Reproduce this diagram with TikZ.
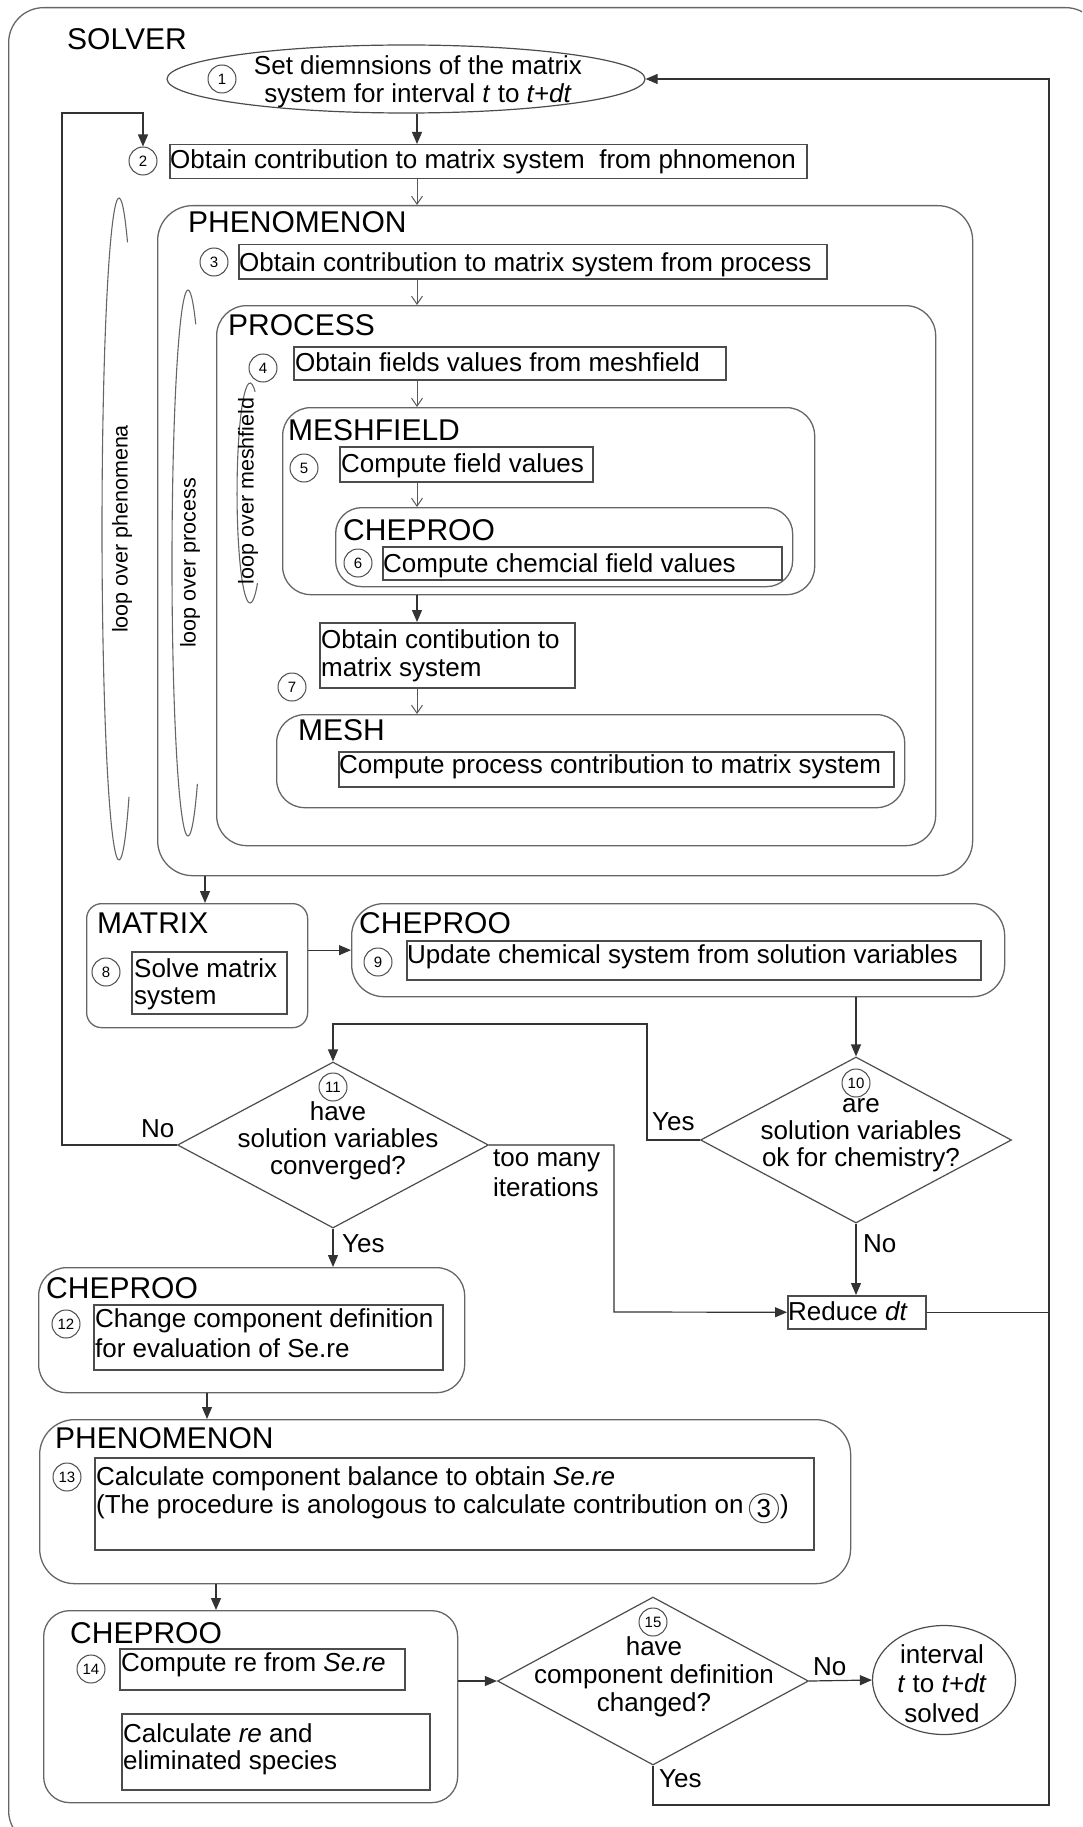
\documentclass[tikz,border=0pt]{standalone}
\usepackage{fontspec}
\setmainfont{Liberation Sans}
\usetikzlibrary{arrows.meta,shapes.geometric}
\begin{document}
\begin{tikzpicture}[x=1pt,y=-1pt,
  ln/.style={draw=black!80, line width=1.2pt},
  tb/.style={draw=black!70, line width=1.5pt, rectangle, inner sep=0pt, anchor=north west},
  rb/.style={draw=black!60, line width=1.3pt, rectangle, rounded corners=28pt, inner sep=0pt, anchor=north west},
  ttl/.style={font=\fontsize{30}{34}\selectfont, anchor=base west, inner sep=0pt},
  txt/.style={font=\fontsize{26}{28}\selectfont, inner sep=0pt},
  lbl/.style={txt, anchor=base west},
  num/.style={circle, draw=black!70, line width=1pt, minimum size=28pt, inner sep=0pt, font=\fontsize{15}{15}\selectfont},
  fa/.style={ln, -{Triangle[length=12pt,width=10pt]}},
  oa/.style={draw=black!65, line width=1pt, -{Straight Barb[length=8pt,width=11pt]}},
  dia/.style={diamond, draw=black!70, line width=1.2pt, inner sep=0pt},
  ell/.style={ellipse, draw=black!70, line width=1.2pt, inner sep=0pt},
  loopl/.style={draw=black!60, line width=1.1pt},
  looptxt/.style={font=\fontsize{21.5}{24}\selectfont, rotate=90, inner sep=0pt}
]
\useasboundingbox (0,0) rectangle (1082,1827);
\clip (0,0) rectangle (1082,1827);

% outer solver frame
\node[rb, rounded corners=35pt, minimum width=1092pt, minimum height=1838pt] (solver) at (8,7) {};
\node[ttl] (tsolver) at (67,50) {SOLVER};

% step 1
\node[ell, minimum width=478pt, minimum height=68pt] (e1) at (406,79) {};
\node[num] (n1) at (222,79) {1};
\node[txt, align=center, anchor=base] (t1) at (418,103) {Set diemnsions of the matrix\\system for interval \textit{t} to \textit{t+dt}};

% step 2
\node[tb, minimum width=637pt, minimum height=34pt] (b2) at (169,144) {};
\node[lbl] (t2) at (170,169) {Obtain contribution to matrix system\ \ from phnomenon};
\node[num] (n2) at (143,161) {2};

% PHENOMENON
\node[rb, rounded corners=35pt, minimum width=815pt, minimum height=670pt] (phen) at (157,205) {};
\node[ttl] (tphen) at (188,233) {PHENOMENON};
\node[tb, minimum width=588pt, minimum height=34pt] (b3) at (238,244) {};
\node[lbl] (t3) at (239,271) {Obtain contribution to matrix system from process};
\node[num] (n3) at (214,262) {3};

% PROCESS
\node[rb, rounded corners=30pt, minimum width=719pt, minimum height=540pt] (proc) at (216,305) {};
\node[ttl] (tproc) at (228,335) {PROCESS};
\node[tb, minimum width=432pt, minimum height=33pt] (b4) at (293,346) {};
\node[lbl] (t4) at (295,371) {Obtain fields values from meshfield};
\node[num] (n4) at (263,368) {4};

% MESHFIELD
\node[rb, minimum width=532pt, minimum height=187pt] (mf) at (282,407) {};
\node[ttl] (tmf) at (288,440) {MESHFIELD};
\node[tb, minimum width=253pt, minimum height=35pt] (b5) at (339,446) {};
\node[lbl] (t5) at (341,472) {Compute field values};
\node[num] (n5) at (304,468) {5};
\node[rb, rounded corners=26pt, minimum width=457pt, minimum height=79pt] (chi) at (335,507) {};
\node[ttl] (tchi) at (343,540) {CHEPROO};
\node[tb, minimum width=399pt, minimum height=33pt] (b6) at (382,546) {};
\node[lbl] (t6) at (383,572) {Compute chemcial field values};
\node[num] (n6) at (358,563) {6};

% step 7
\node[tb, minimum width=255pt, minimum height=65pt] (b7) at (319,622) {};
\node[lbl] (t7a) at (321,648) {Obtain contibution to};
\node[lbl] (t7b) at (321,676) {matrix system};
\node[num] (n7) at (292,687) {7};

% MESH
\node[rb, minimum width=628pt, minimum height=93pt] (mesh) at (276,714) {};
\node[ttl] (tmesh) at (298,740) {MESH};
\node[tb, minimum width=555pt, minimum height=35pt] (bm) at (338,751) {};
\node[lbl] (tm) at (339,773) {Compute process contribution to matrix system};

% loops
\draw[loopl] (129,796.8) arc[start angle=54, end angle=300, x radius=17, y radius=331];
\node[looptxt] (lph) at (122,529) {loop over phenomena};
\draw[loopl] (197.4,783.9) arc[start angle=54, end angle=299, x radius=16, y radius=273];
\node[looptxt] (lpr) at (190,563) {loop over process};
\draw[loopl] (257.5,583.1) arc[start angle=55, end angle=293, x radius=13, y radius=110];
\node[looptxt] (lme) at (248,491) {loop over meshfield};

% MATRIX
\node[rb, rounded corners=15pt, minimum width=221pt, minimum height=124pt] (mat) at (86,903) {};
\node[ttl] (tmat) at (97,933) {MATRIX};
\node[tb, minimum width=155pt, minimum height=62pt] (b8) at (131,951) {};
\node[lbl] (t8a) at (134,977) {Solve matrix};
\node[lbl] (t8b) at (134,1004) {system};
\node[num] (n8) at (106,972) {8};

% CHEPROO 9
\node[rb, rounded corners=32pt, minimum width=653pt, minimum height=93pt] (ch9) at (351,903) {};
\node[ttl] (tch9) at (359,933) {CHEPROO};
\node[tb, minimum width=574pt, minimum height=39pt] (b9) at (406,940) {};
\node[lbl] (t9) at (407,963) {Update chemical system from solution variables};
\node[num] (n9) at (378,962) {9};

% diamonds 10 and 11
\node[dia, minimum width=311pt, minimum height=166pt] (d10) at (856,1140) {};
\node[num] (n10) at (856,1083) {10};
\node[txt, align=center, anchor=base, font=\fontsize{26}{27}\selectfont] (t10) at (861,1166) {are\\solution variables\\ok for chemistry?};
\node[dia, minimum width=311pt, minimum height=166pt] (d11) at (333,1145) {};
\node[num] (n11) at (333,1087) {11};
\node[txt, align=center, anchor=base, font=\fontsize{26}{27}\selectfont] (t11) at (338,1174) {have\\solution variables\\converged?};

% Reduce dt
\node[tb, minimum width=138pt, minimum height=33pt] (rd) at (787,1295) {};
\node[lbl] (trd) at (788,1320) {Reduce \textit{dt}};

% CHEPROO 12
\node[rb, minimum width=426pt, minimum height=125pt] (ch12) at (38,1267) {};
\node[ttl] (tch12) at (46,1298) {CHEPROO};
\node[tb, minimum width=349pt, minimum height=65pt] (b12) at (93,1304) {};
\node[lbl] (t12a) at (95,1327) {Change component definition};
\node[lbl] (t12b) at (95,1357) {for evaluation of Se.re};
\node[num] (n12) at (66,1324) {12};

% PHENOMENON 13
\node[rb, rounded corners=35pt, minimum width=811pt, minimum height=164pt] (ph13) at (39,1419) {};
\node[ttl] (tph13) at (55,1448) {PHENOMENON};
\node[tb, minimum width=719pt, minimum height=92pt] (b13) at (94,1457) {};
\node[lbl] (t13a) at (96,1485) {Calculate component balance to obtain \textit{Se.re}};
\node[lbl] (t13b) at (96,1513) {(The procedure is anologous to calculate contribution on};
\node[circle, draw=black!70, line width=1pt, minimum size=29pt, inner sep=0pt, font=\fontsize{26}{28}\selectfont, anchor=west] (n3b) at ([xshift=5pt,yshift=-2pt]t13b.east) {3};
\node[lbl] (t13c) at ([xshift=1pt]n3b.east |- t13b.base) {)};
\node[num] (n13) at (67,1477) {13};

% CHEPROO 14
\node[rb, rounded corners=26pt, minimum width=414pt, minimum height=192pt] (ch14) at (43,1610) {};
\node[ttl] (tch14) at (70,1643) {CHEPROO};
\node[tb, minimum width=285pt, minimum height=41pt] (b14) at (119,1648) {};
\node[lbl] (t14) at (121,1671) {Compute re from \textit{Se.re}};
\node[num] (n14) at (91,1669) {14};
\node[tb, minimum width=308pt, minimum height=76pt] (b14b) at (121,1713) {};
\node[lbl] (t14b) at (123,1742) {Calculate \textit{re} and};
\node[lbl] (t14c) at (123,1769) {eliminated species};

% diamond 15 and end
\node[dia, minimum width=311pt, minimum height=168pt] (d15) at (653,1681) {};
\node[num] (n15) at (653,1622) {15};
\node[txt, align=center, anchor=base] (t15) at (654,1711) {have\\component definition\\changed?};
\node[ell, minimum width=143pt, minimum height=109pt] (fin) at (944,1680) {};
\node[txt, align=center, anchor=base, font=\fontsize{26}{29.5}\selectfont] (tfin) at (942,1722) {interval\\\textit{t} to \textit{t+dt}\\solved};

% helper coordinates
\coordinate (colx) at (417,0);
\coordinate (c205) at (205,0);
\coordinate (c207) at (207,0);
\coordinate (c216) at (216,0);
\coordinate (lx) at (62,113);
\coordinate (rx) at (1049,1805);
\coordinate (yy) at (647,1024);
\coordinate (tmx) at (614,1312);

% connectors
\draw[fa] (e1.south -| colx) -- (b2.north -| colx);
\draw[oa] (b2.south -| colx) -- (phen.north -| colx);
\draw[oa] (b3.south -| colx) -- (proc.north -| colx);
\draw[oa] (b4.south -| colx) -- (mf.north -| colx);
\draw[oa] (b5.south -| colx) -- (chi.north -| colx);
\draw[fa] (mf.south -| colx) -- (b7.north -| colx);
\draw[oa] (b7.south -| colx) -- (mesh.north -| colx);
\draw[fa] (phen.south -| c205) -- (mat.north -| c205);
\draw[fa] (mat.east |- ch9.west) -- (ch9.west);
\draw[fa] (d10.north |- ch9.south) -- (d10.north);
\draw[fa] (d10.west) -| (yy) -| (d11.north);
\node[lbl] (yes10) at (652,1130) {Yes};
\draw[fa] (d11.west) -| (lx) -| (n2.north);
\node[lbl] (no11) at (141,1137) {No};
\draw[fa] (d11.east) -| (tmx) -- (rd.west);
\node[lbl] (tm1) at (493,1166) {too many};
\node[lbl] (tm2) at (493,1196) {iterations};
\draw[fa] (d10.south) -- (d10.south |- rd.north);
\node[lbl] (no10) at (863,1252) {No};
\draw[ln] (rd.east) -- (rd.east -| rx);
\draw[fa] (d11.south) -- (d11.south |- ch12.north);
\node[lbl] (yes11) at (342,1252) {Yes};
\draw[fa] (ch12.south -| c207) -- (ph13.north -| c207);
\draw[fa] (ph13.south -| c216) -- (ch14.north -| c216);
\draw[fa] (ch14.east |- d15.west) -- (d15.west);
\draw[fa] (d15.east) -- (fin.west);
\node[lbl] (no15) at (813,1675) {No};
\draw[fa] (d15.south) |- (rx) |- (e1.east);
\node[lbl] (yes15) at (659,1787) {Yes};
\end{tikzpicture}
\end{document}
